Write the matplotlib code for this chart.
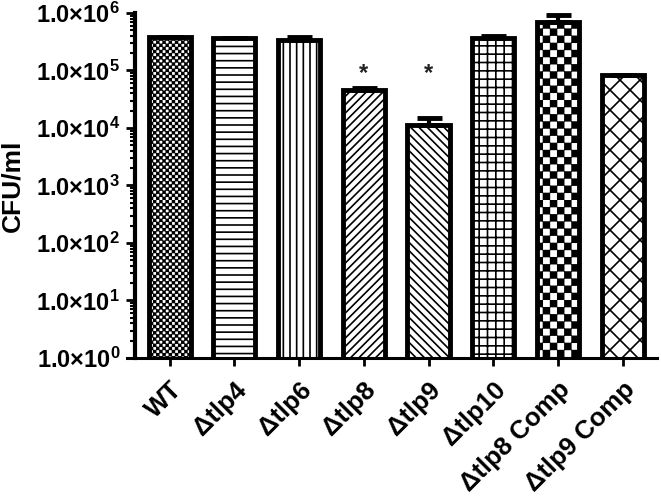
import numpy as np
import matplotlib
matplotlib.use("Agg")
import matplotlib.pyplot as plt
import matplotlib.hatch as mhatch
from matplotlib.path import Path
from matplotlib.backend_bases import GraphicsContextBase
from matplotlib.ticker import LogLocator, FuncFormatter, NullFormatter

# data
strains = ["WT", "Δtlp4", "Δtlp6", "Δtlp8", "Δtlp9", "Δtlp10", "Δtlp8 Comp", "Δtlp9 Comp"]
cfu = [3.8e5, 3.6e5, 3.4e5, 4.6e4, 1.13e4, 3.6e5, 6.9e5, 8.3e4]
cfu_err = [0.0, 0.0, 0.4e5, 0.4e4, 0.37e4, 0.3e5, 2.4e5, 0.0]
significant = [False, False, False, True, True, False, False, False]
hatches = ["o" * 32, "-" * 14, "|" * 15, "/" * 24, "\\" * 24, "+" * 12, "o" * 14, "x" * 10]


# hatch counts are taken literally (lines / cells per 100 px tile)
def _hatch_path(self, density=1.0):
    h = self.get_hatch()
    if h is None:
        return None
    return Path.hatch(h, density)


GraphicsContextBase.get_hatch_path = _hatch_path


class Checker(mhatch.HatchPatternBase):
    # filled checkerboard, 'o' count = cells per tile side
    def __init__(self, hatch, density):
        self.cells = int(hatch.count("o") * density)
        if self.cells % 2:
            self.cells += 1
        self.num_vertices = (self.cells ** 2 // 2) * 5 if self.cells else 0

    def set_vertices_and_codes(self, vertices, codes):
        n = self.cells
        s = 1.0 / n
        g = 0.0065
        sq = np.array([[g, g], [s - g, g], [s - g, s - g], [g, s - g], [g, g]])
        cds = [Path.MOVETO, Path.LINETO, Path.LINETO, Path.LINETO, Path.CLOSEPOLY]
        k = 0
        for r in range(n):
            for c in range(n):
                if (r + c) % 2 == 0:
                    vertices[k:k + 5] = sq + [c * s, r * s]
                    codes[k:k + 5] = cds
                    k += 5


mhatch._hatch_types = [t for t in mhatch._hatch_types if t is not mhatch.SmallCircles] + [Checker]

plt.rcParams["font.family"] = ["Liberation Sans", "DejaVu Sans"]
plt.rcParams["font.weight"] = "bold"
plt.rcParams["mathtext.fontset"] = "custom"
plt.rcParams["mathtext.rm"] = "Liberation Sans"
plt.rcParams["mathtext.it"] = "Liberation Sans"
plt.rcParams["mathtext.bf"] = "Liberation Sans:bold"
plt.rcParams["hatch.linewidth"] = 1.2
plt.rcParams["hatch.color"] = "black"

fig = plt.figure(figsize=(6.61, 4.99), dpi=100)
ax = fig.add_axes([0.204, 0.2826, 0.7897, 0.6914])

x = np.arange(len(strains))
bars = ax.bar(x, cfu, width=0.65, color="white", edgecolor="black", linewidth=3.5, zorder=2)
for b, h in zip(bars, hatches):
    b.set_hatch(h)

ax.errorbar(x, cfu, yerr=[np.zeros(len(cfu)), cfu_err], fmt="none", ecolor="black",
            elinewidth=3, capsize=9, capthick=3.5, zorder=3)

for xi, v, sig in zip(x, cfu, significant):
    if sig:
        ax.text(xi, 9.0e4, "*", ha="center", va="center", fontsize=17, color="#222222")

ax.set_yscale("log")
ax.set_ylim(1, 1e6)
ax.set_xlim(-0.54, 7.53)

ax.yaxis.set_major_locator(LogLocator(base=10, numticks=10))
ax.yaxis.set_minor_locator(LogLocator(base=10, subs=np.arange(2, 10), numticks=10))
ax.yaxis.set_major_formatter(FuncFormatter(lambda v, p: "1.0×10$^{%d}$" % round(np.log10(v))))
ax.yaxis.set_minor_formatter(NullFormatter())

ax.set_xticks(x)
ax.set_xticklabels(strains, rotation=45, ha="right", rotation_mode="anchor", fontsize=18.5)

ax.tick_params(axis="y", which="major", length=6.5, width=2, labelsize=17, pad=4)
ax.tick_params(axis="y", which="minor", length=3.5, width=1.5)
ax.tick_params(axis="x", which="major", length=6, width=2, pad=8)

for side in ["top", "right"]:
    ax.spines[side].set_visible(False)
ax.spines["left"].set_linewidth(3)
ax.spines["bottom"].set_linewidth(2.2)
ax.spines["bottom"].set_bounds(-0.66, 7.53)

ax.set_ylabel("CFU/ml", fontsize=19, fontweight="bold")
ax.yaxis.set_label_coords(-0.211, 0.5)

fig.savefig("out.png", dpi=100)
